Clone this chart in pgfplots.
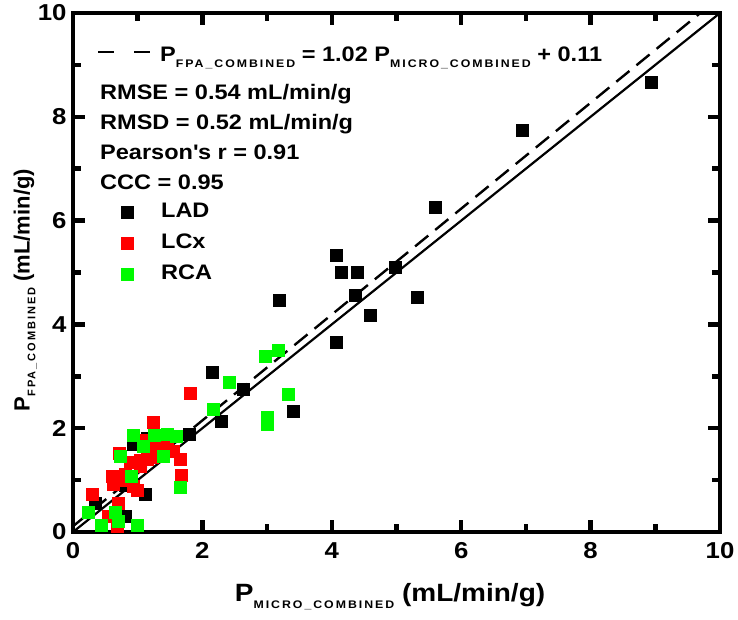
\documentclass[border=0pt]{standalone}
\usepackage{fontspec}
\setmainfont{Liberation Sans}[FakeStretch=1.12]
\newfontfamily\ylfont{Liberation Sans}
\usepackage{pgfplots}
\pgfplotsset{compat=1.18}
\definecolor{lcxred}{RGB}{255,0,0}
\definecolor{rcagreen}{RGB}{0,250,0}
% spaced small subscript
\newcommand{\sub}[1]{\raisebox{-0.5ex}{\fontsize{11}{11}\selectfont\addfontfeatures{LetterSpace=18}#1}}
\newcommand{\txt}{\fontsize{21}{21}\selectfont\bfseries}

\begin{document}
\begin{tikzpicture}
\begin{axis}[
    scale only axis,
    width=647pt, height=519pt,
    xmin=0, xmax=10, ymin=0, ymax=10,
    xtick={0,2,...,10}, ytick={0,2,...,10},
    minor x tick num=1, minor y tick num=1,
    tick align=inside,
    major tick length=12pt, minor tick length=8pt,
    tick style={draw=black, line width=4.5pt},
    axis line style={line width=3.5pt, line cap=rect},
    ticklabel style={font=\fontsize{23}{23}\selectfont\bfseries},
    /pgf/number format/assume math mode=true,
    xticklabel style={yshift=-7pt},
    yticklabel style={xshift=-3pt},
    xlabel={P\sub{MICRO\_COMBINED} (mL/min/g)},
    ylabel={P\sub{FPA\_COMBINED} (mL/min/g)},
    xlabel style={font=\fontsize{25}{25}\selectfont\bfseries,
        at={(axis description cs:0.49,-0.125)}, anchor=center},
    ylabel style={font=\ylfont\fontsize{22}{22}\selectfont\bfseries,
        at={(axis description cs:-0.074,0.466)}, anchor=center},
    legend style={at={(axis description cs:0.066,0.642)}, anchor=north west,
        draw=none, fill=none, font=\txt, row sep=9pt,
        nodes={inner ysep=0pt, text height=17pt, text depth=5pt}},
    legend cell align=left,
    legend image code/.code={\draw[#1, only marks, mark size=6pt] plot coordinates {(0.3cm,0cm)}; \path (0cm,0cm) (1.4cm,0cm);},
]
\addplot[black, line width=2.2pt, forget plot] coordinates {(0,0) (10,10)};
\addplot[black, line width=2.4pt, dash pattern=on 17pt off 9pt, forget plot] coordinates {(0,0.11) (9.696,10)};

\addplot[only marks, mark=square*, mark size=6pt, black] coordinates {
(8.93,8.67) (6.95,7.75) (5.60,6.26) (4.07,5.34) (4.14,5.00) (4.40,5.00)
(4.98,5.11) (4.36,4.57) (5.32,4.52) (3.19,4.47) (4.60,4.18) (4.07,3.65)
(3.40,2.33) (2.15,3.08) (2.63,2.76) (2.29,2.14) (1.80,1.88) (1.14,1.80)
(0.93,1.69) (0.80,0.90) (1.12,0.72) (0.34,0.55) (0.80,0.30)
};
\addlegendentry{LAD}
\addplot[only marks, mark=square*, mark size=6pt, draw=lcxred, fill=lcxred] coordinates {
(1.81,2.67) (1.24,2.12) (1.09,1.76) (1.24,1.64) (1.45,1.68) (1.55,1.56)
(0.71,1.52) (0.88,1.35) (1.04,1.39) (1.22,1.45) (1.66,1.40) (1.04,1.26)
(0.80,1.12) (1.68,1.09) (0.61,1.07) (0.62,0.92) (0.93,0.89) (0.99,0.81)
(0.29,0.73) (0.70,0.55) (0.55,0.30) (0.68,0.12) (1.27,1.71) (1.15,1.40)
(0.75,1.00)
};
\addlegendentry{LCx}
\addplot[only marks, mark=square*, mark size=6pt, draw=rcagreen, fill=rcagreen] coordinates {
(3.17,3.51) (2.97,3.38) (2.42,2.88) (3.33,2.66) (2.17,2.37) (3.00,2.22)
(3.00,2.08) (0.93,1.86) (1.25,1.87) (1.45,1.89) (1.60,1.85) (1.09,1.65)
(0.73,1.46) (1.40,1.47) (0.90,1.08) (1.65,0.86) (0.24,0.39) (0.65,0.39)
(0.70,0.20) (0.44,0.13) (0.99,0.13)
};
\addlegendentry{RCA}
\end{axis}
% annotations (axis south west is the origin, 1pt = 1px of the reference)
\draw[line width=2.4pt, dash pattern=on 16pt off 20pt] (25pt,480pt) -- (77pt,480pt);
\node[anchor=base west, inner sep=0pt, font=\txt] at (87pt,470pt)
  {P\sub{FPA\_COMBINED} = 1.02 P\sub{MICRO\_COMBINED} + 0.11};
\node[anchor=base west, inner sep=0pt, font=\txt] at (27pt,432pt) {RMSE = 0.54 mL/min/g};
\node[anchor=base west, inner sep=0pt, font=\txt] at (27pt,402pt) {RMSD = 0.52 mL/min/g};
\node[anchor=base west, inner sep=0pt, font=\txt] at (27pt,372pt) {Pearson\textquotesingle s r = 0.91};
\node[anchor=base west, inner sep=0pt, font=\txt] at (27pt,342pt) {CCC = 0.95};
\pgfresetboundingbox
\path (-73pt,-88pt) rectangle (665pt,532pt);
\end{tikzpicture}
\end{document}
